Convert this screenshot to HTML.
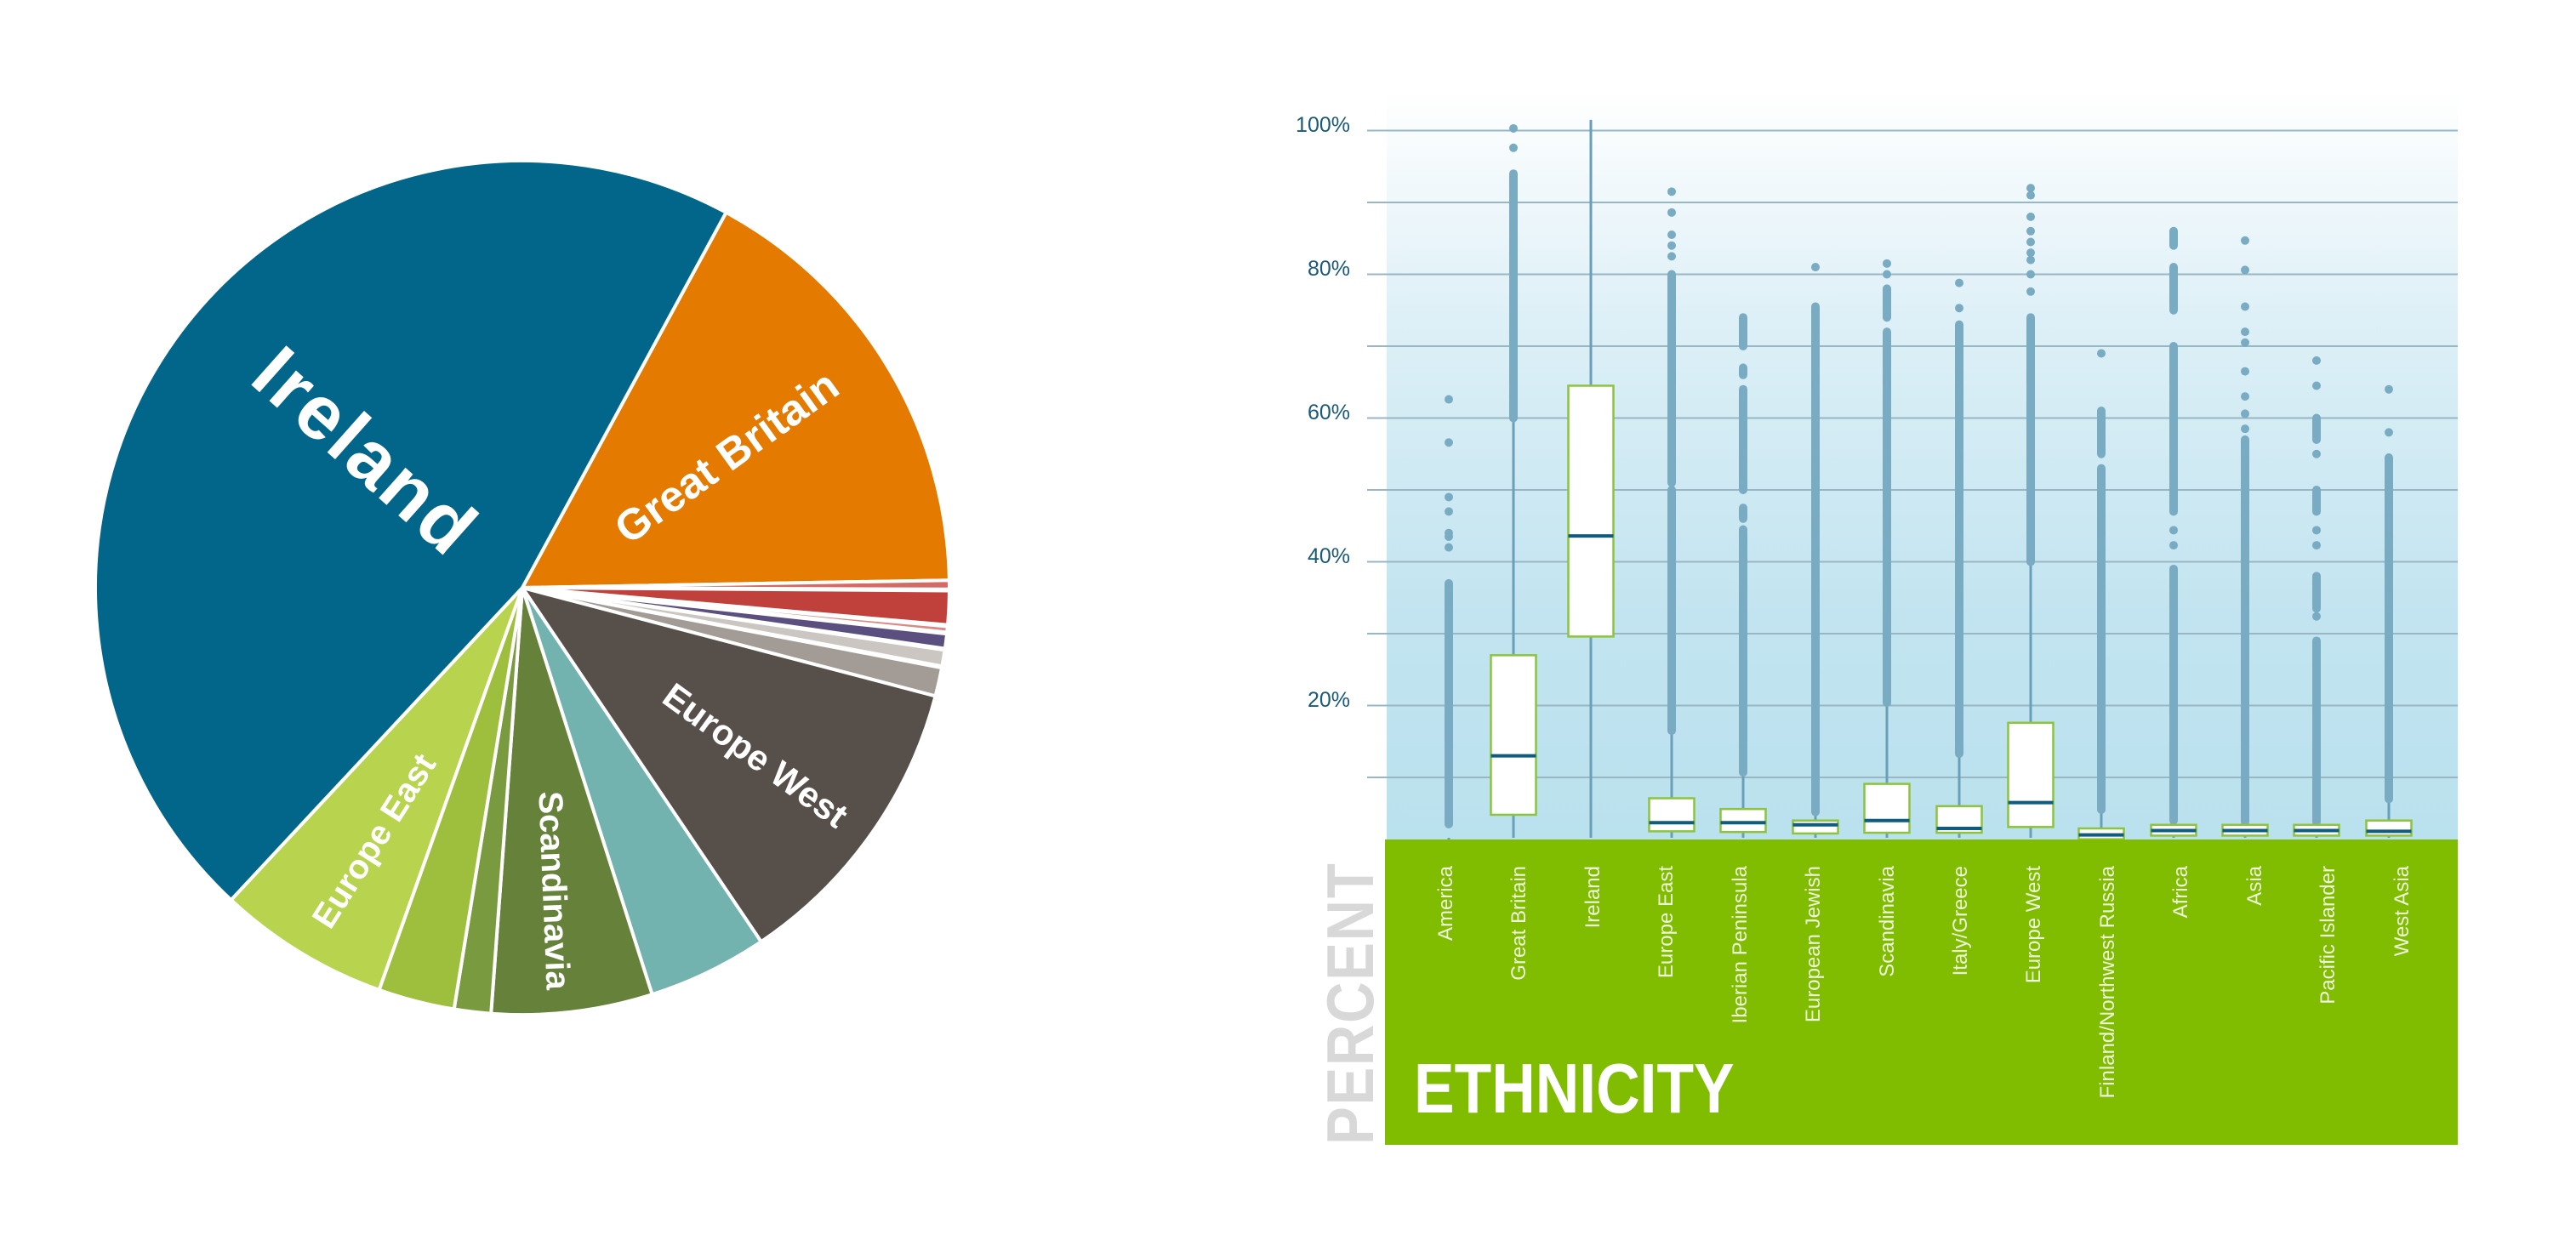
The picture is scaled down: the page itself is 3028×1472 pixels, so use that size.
<!DOCTYPE html>
<html><head><meta charset="utf-8"><style>
html,body{margin:0;padding:0;background:#fff;}
svg{display:block;}
</style></head><body>
<svg id="s" width="3028" height="1472" viewBox="0 0 3028 1472" xmlns="http://www.w3.org/2000/svg">
<defs>
<linearGradient id="bg" x1="0" y1="0" x2="0" y2="1">
<stop offset="0" stop-color="#ffffff"/>
<stop offset="0.3" stop-color="#def0f7"/>
<stop offset="0.7" stop-color="#c2e4f0"/>
<stop offset="1" stop-color="#bae1ee"/>
</linearGradient>
</defs>
<g id="pie"></g>
<g font-family="Liberation Sans, sans-serif" font-weight="bold" fill="#fff">
<text transform="translate(429,531) rotate(41.6)" text-anchor="middle" dominant-baseline="central" font-size="90" letter-spacing="3">Ireland</text>
<text transform="translate(854,537) rotate(-35.7)" text-anchor="middle" dominant-baseline="central" font-size="51">Great Britain</text>
<text transform="translate(888,888) rotate(36)" text-anchor="middle" dominant-baseline="central" font-size="42">Europe West</text>
<text transform="translate(651,1047) rotate(87.7)" text-anchor="middle" dominant-baseline="central" font-size="40">Scandinavia</text>
<text transform="translate(440,989) rotate(-57.5)" text-anchor="middle" dominant-baseline="central" font-size="40">Europe East</text>
</g>
<rect x="1630" y="106" width="1259" height="882" fill="url(#bg)"/>
<g id="grid"></g>
<g font-family="Liberation Sans, sans-serif" font-size="25" fill="#1a5a78" text-anchor="end">
<text x="1587" y="155">100%</text>
<text x="1587" y="324">80%</text>
<text x="1587" y="493">60%</text>
<text x="1587" y="662">40%</text>
<text x="1587" y="831">20%</text>
</g>
<g id="box"></g>
<rect x="1628" y="987" width="1261" height="359" fill="#80bc00"/>
<g font-family="Liberation Sans, sans-serif" font-size="24" fill="#eef6dc" text-anchor="end">
<text transform="translate(1707,1018) rotate(-90)">America</text>
<text transform="translate(1793,1018) rotate(-90)">Great Britain</text>
<text transform="translate(1880,1018) rotate(-90)">Ireland</text>
<text transform="translate(1966,1018) rotate(-90)">Europe East</text>
<text transform="translate(2053,1018) rotate(-90)">Iberian Peninsula</text>
<text transform="translate(2139,1018) rotate(-90)">European Jewish</text>
<text transform="translate(2226,1018) rotate(-90)">Scandinavia</text>
<text transform="translate(2312,1018) rotate(-90)">Italy/Greece</text>
<text transform="translate(2398,1018) rotate(-90)">Europe West</text>
<text transform="translate(2485,1018) rotate(-90)">Finland/Northwest Russia</text>
<text transform="translate(2571,1018) rotate(-90)">Africa</text>
<text transform="translate(2658,1018) rotate(-90)">Asia</text>
<text transform="translate(2744,1018) rotate(-90)">Pacific Islander</text>
<text transform="translate(2831,1018) rotate(-90)">West Asia</text>
</g>
<text transform="translate(1662,1308) scale(0.86,1)" font-family="Liberation Sans, sans-serif" font-weight="bold" font-size="83" fill="#fff">ETHNICITY</text>
<text transform="translate(1614,1346) rotate(-90) scale(0.86,1)" font-family="Liberation Sans, sans-serif" font-weight="bold" font-size="78" fill="#d8d8d8" letter-spacing="2">PERCENT</text>
</svg>
<script>
var NS="http://www.w3.org/2000/svg";
function el(p,n,a){var e=document.createElementNS(NS,n);for(var k in a)e.setAttribute(k,a[k]);p.appendChild(e);return e;}
var pie=document.getElementById("pie");
var cx=614,cy=691,r=502;
var sl=[[-61.5,-1,"#e57a00"],[-1,0.2,"#d46a63"],[0.4,5.0,"#c0413b"],[5.2,6.0,"#d88a86"],[6.2,8.2,"#5b4f80"],[8.4,10.6,"#cbc6c1"],[10.8,14.7,"#a29b96"],[14.7,56,"#574f4a"],[56,72.3,"#72b3b0"],[72.3,94.2,"#65813a"],[94.2,99.2,"#7a9a40"],[99.2,109.6,"#9dbf3d"],[109.6,133,"#b8d44e"],[133,298.5,"#02668a"]];
function pt(a){var t=a*Math.PI/180;return (cx+r*Math.cos(t)).toFixed(1)+","+(cy+r*Math.sin(t)).toFixed(1);}
sl.forEach(function(s){var large=(s[1]-s[0])>180?1:0;
el(pie,"path",{d:"M"+cx+","+cy+" L"+pt(s[0])+" A"+r+","+r+" 0 "+large+" 1 "+pt(s[1])+" Z",fill:s[2],stroke:"#fff","stroke-width":4,"stroke-linejoin":"round"});});
var Y=function(p){return 998.5-8.45*p;};
var g=document.getElementById("grid");
for(var i=1;i<=10;i++){var y=Y(i*10);el(g,"line",{x1:1607,x2:2889,y1:y,y2:y,stroke:"#98b6c3","stroke-width":2});}
var b=document.getElementById("box");
var D=[
[1703,null,0,[[3.5,37]],[42,43.5,44,47,49,56.6,62.6]],
[1779,[4.8,13,27],60,[[60,94]],[97.6,100.3]],
[1870,[29.6,43.6,64.5],101.5,[],[]],
[1965,[2.5,3.7,7.1],16.5,[[16.5,50],[51,80]],[82.5,84,85.5,88.6,91.5]],
[2049,[2.4,3.7,5.6],10.7,[[10.7,44.5],[46,47.5],[50,64],[66,67],[70,74]],[]],
[2134,[2.2,3.4,4.0],5.2,[[5.2,75.5]],[81]],
[2218,[2.3,4.0,9.1],20.4,[[20.4,72],[74,78]],[80,81.5]],
[2303,[2.3,2.9,6.0],13.3,[[13.3,73]],[75.3,78.8]],
[2387,[3.1,6.5,17.6],40,[[40,74]],[77.6,80,82,83,84.5,86,88,91,92]],
[2470,[1.4,2.0,2.9],5.5,[[5.5,53],[55,61]],[69]],
[2555,[1.9,2.6,3.4],4,[[4,39],[47,70],[75,81],[84,86]],[42.3,44.4]],
[2639,[1.9,2.6,3.4],3.8,[[3.8,57]],[58.5,60.6,63,66.5,70.5,72,75.5,80.6,84.7]],
[2723,[1.9,2.6,3.4],3.8,[[3.8,29],[33.5,38],[47,50],[57,60]],[32.4,42.3,44.4,55,64.5,68]],
[2808,[1.9,2.5,4.0],7,[[7,54.5]],[58,64]]];
D.forEach(function(d){var x=d[0];
el(b,"line",{x1:x,x2:x,y1:985,y2:Y(d[2]),stroke:"#6a9fb9","stroke-width":3});
d[3].forEach(function(s){el(b,"line",{x1:x,x2:x,y1:Y(s[0]),y2:Y(s[1]),stroke:"#79abc3","stroke-width":10,"stroke-linecap":"round"});});
d[4].forEach(function(p){el(b,"circle",{cx:x,cy:Y(p),r:5,fill:"#79abc3"});});
if(d[1]){var q=d[1];el(b,"rect",{x:x-26.5,y:Y(q[2]),width:53,height:Y(q[0])-Y(q[2]),fill:"#fff",stroke:"#8cc43c","stroke-width":2.5});
el(b,"line",{x1:x-26.5,x2:x+26.5,y1:Y(q[1]),y2:Y(q[1]),stroke:"#0f5d7e","stroke-width":4});}
});
</script>
</body></html>
